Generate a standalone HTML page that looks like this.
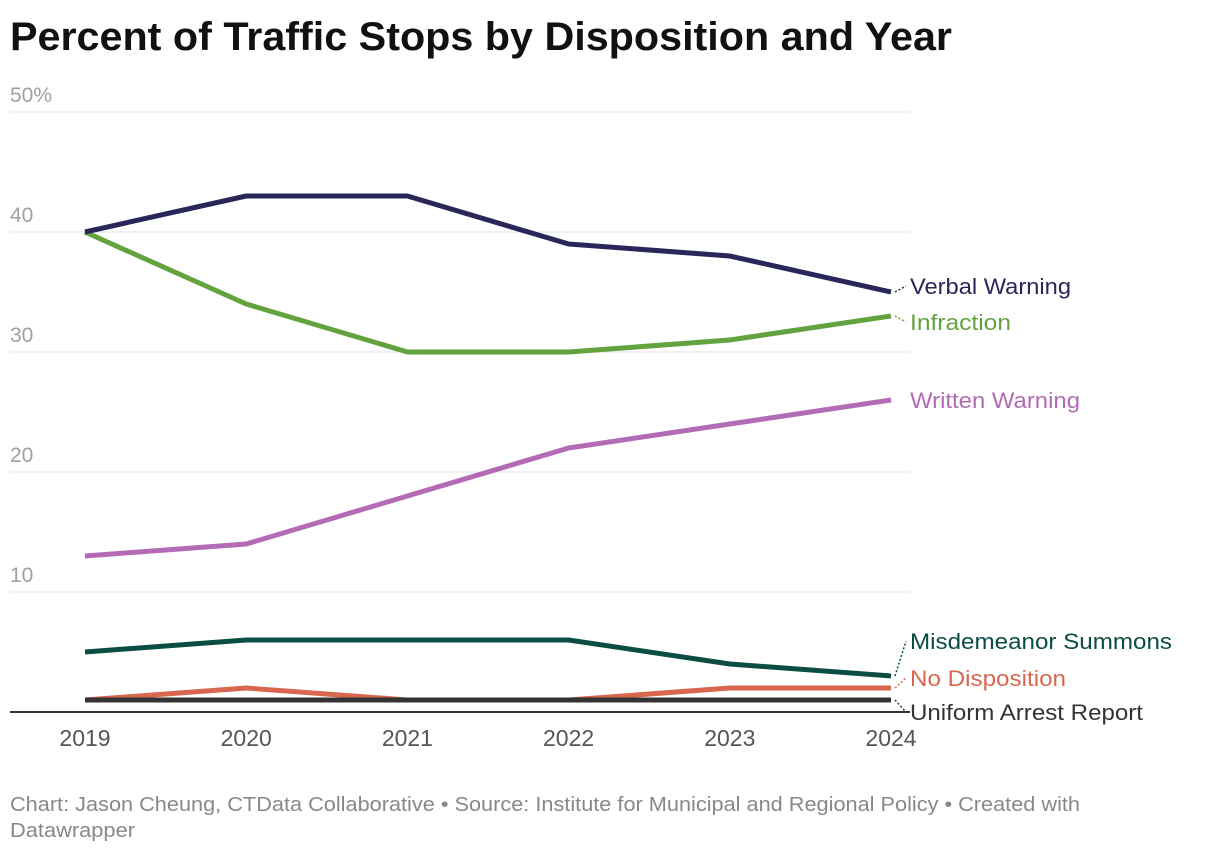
<!DOCTYPE html>
<html><head><meta charset="utf-8"><style>
body{margin:0;background:#fff;font-family:"Liberation Sans",sans-serif}
svg{display:block}
</style></head><body>
<svg width="1220" height="854" id="c">
<text x="10" y="50" font-size="40" font-weight="bold" fill="#111" textLength="942" lengthAdjust="spacingAndGlyphs">Percent of Traffic Stops by Disposition and Year</text>
<g id="grid"></g><g id="lines"></g><g id="labels"></g>
<text x="10" y="811" font-size="20" fill="#888" textLength="1070" lengthAdjust="spacingAndGlyphs">Chart: Jason Cheung, CTData Collaborative • Source: Institute for Municipal and Regional Policy • Created with</text>
<text x="10" y="837" font-size="20" fill="#888" textLength="125" lengthAdjust="spacingAndGlyphs">Datawrapper</text>
</svg>
<script>
const years=["2019","2020","2021","2022","2023","2024"];
const yTicks=[0,10,20,30,40,50];
const verbal=[40,43,43,39,38,35];
const infraction=[40,34,30,30,31,33];
const written=[13,14,18,22,24,26];
const misdemeanor=[5,6,6,6,4,3];
const noDisp=[1,2,1,1,2,2];
const uar=[1,1,1,1,1,1];
const NS="http://www.w3.org/2000/svg";
const x=i=>85+i*(891-85)/(years.length-1);
const y=v=>712-v*12;
function mk(t,a,p){const e=document.createElementNS(NS,t);for(const k in a)e.setAttribute(k,a[k]);p.appendChild(e);return e;}
const g=document.getElementById('grid');
yTicks.forEach(t=>{
 if(t>0){const l=mk('line',{x1:10,x2:910,y1:y(t),y2:y(t),stroke:'#e0e0e0','stroke-width':1},g);
 
 
 const tx=mk('text',{x:10,y:y(t)-10,'font-size':21,fill:'#a0a0a0'},g);tx.textContent=t+(t===50?'%':'');
 
 }
});
const ax=mk('line',{x1:10,x2:910,y1:y(0),y2:y(0),stroke:'#333','stroke-width':2},g);


years.forEach((yr,i)=>{const t=mk('text',{x:x(i),y:746,'font-size':23,fill:'#555','text-anchor':'middle'},g);t.textContent=yr;
 
 });
const series=[
 [noDisp,'#d9674f','No Disposition',678,'no-disposition',156],
 [uar,'#333333','Uniform Arrest Report',712,'uniform-arrest-report',233],
 [misdemeanor,'#0b4d43','Misdemeanor Summons',641,'misdemeanor-summons',262],
 [written,'#b36bb5','Written Warning',400,'written-warning',170],
 [infraction,'#63a33f','Infraction',322,'infraction',101],
 [verbal,'#29265a','Verbal Warning',286,'verbal-warning',161]];
const L=document.getElementById('lines'),LB=document.getElementById('labels');
series.forEach(([d,c,name,ly,id,w])=>{
 const p=mk('polyline',{points:d.map((v,i)=>x(i)+','+y(v)).join(' '),fill:'none',stroke:c,'stroke-width':5,'stroke-linejoin':'round'},L);
 
 
 const ex=x(d.length-1),ey=y(d[d.length-1]);
 if(Math.abs(ly-ey)>2){const k=mk('line',{x1:ex+4,y1:ey,x2:906,y2:ly,stroke:c,'stroke-width':1.5,'stroke-dasharray':'2,2'},LB);
 
 }
 const t=mk('text',{x:910,y:ly+8,'font-size':22,fill:c,textLength:w,lengthAdjust:'spacingAndGlyphs'},LB);t.textContent=name;
 
 
});
</script>
</body></html>
